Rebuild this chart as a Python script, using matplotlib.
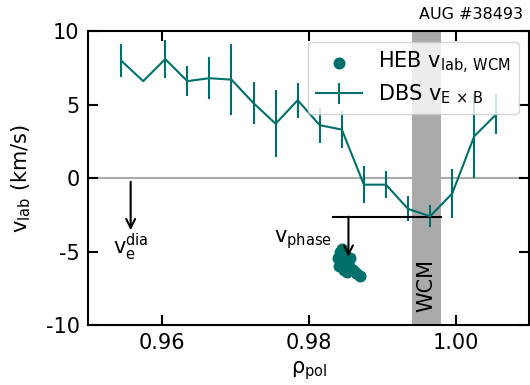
import numpy as np
import matplotlib
matplotlib.use("Agg")
import matplotlib.pyplot as plt

plt.rcParams['axes.unicode_minus'] = False
plt.rcParams['mathtext.default'] = 'regular'

TEAL = '#00706a'

# DBS E x B velocity profile
rho_dbs = [0.9545, 0.9575, 0.9605, 0.9635, 0.9665, 0.9695, 0.9725, 0.9755, 0.9785,
           0.9815, 0.9845, 0.9875, 0.9905, 0.9935, 0.9965, 0.9995, 1.0025, 1.0055]
v_dbs = [8.0, 6.6, 8.1, 6.6, 6.8, 6.7, 5.1, 3.7, 5.3,
         3.6, 3.3, -0.45, -0.45, -2.1, -2.6, -1.05, 2.85, 4.35]
v_dbs_err = [1.15, 0.0, 1.3, 1.0, 1.45, 2.4, 1.45, 2.3, 1.2,
             1.2, 1.25, 1.25, 0.9, 0.85, 0.75, 1.65, 2.85, 1.35]

# HEB lab-frame velocity of the WCM
rho_heb = [0.9843, 0.9848, 0.9840, 0.9845, 0.9841, 0.9851, 0.9855, 0.9848,
           0.9852, 0.9860, 0.9864, 0.9870, 0.9856, 0.9845]
v_heb = [-5.03, -5.24, -5.44, -5.71, -5.99, -5.71, -5.99, -6.26,
         -6.39, -6.26, -6.46, -6.67, -5.44, -4.83]

# WCM radial band and phase velocity
wcm_band = (0.994, 0.998)
v_phase = -2.63
phase_range = (0.9832, 0.9981)
rho_phase_arrow = 0.9854
rho_dia_arrow = 0.9558

fig = plt.figure(figsize=(5.30, 3.85), dpi=100)
ax = fig.add_axes([0.166, 0.156, 0.833, 0.763])

ax.axhline(0, color='#aaaaaa', lw=1.5, zorder=1)
ax.axvspan(*wcm_band, color='#aaaaaa', lw=0, zorder=1)
ax.text(np.mean(wcm_band), -7.3, 'WCM', rotation=90, ha='center', va='center',
        fontsize=15, zorder=2)

ax.scatter(rho_heb, v_heb, s=58, color=TEAL, zorder=4,
           label=r'HEB $\mathrm{v_{lab,\,WCM}}$')
ax.errorbar(rho_dbs, v_dbs, yerr=v_dbs_err, color=TEAL, lw=1.5, elinewidth=1.5,
            capsize=0, zorder=3, label=r'DBS $\mathrm{v_{E\,\times\,B}}$')

ax.hlines(v_phase, *phase_range, color='black', lw=1.5, zorder=3)
ax.annotate('', xy=(rho_phase_arrow, -5.35), xytext=(rho_phase_arrow, v_phase),
            arrowprops=dict(arrowstyle='->', color='black', lw=1.5,
                            shrinkA=0, shrinkB=0, mutation_scale=16), zorder=5)
ax.text(0.9832, -4.2, r'$\mathrm{v_{phase}}$', ha='right', va='center', fontsize=15)

ax.annotate('', xy=(rho_dia_arrow, -3.55), xytext=(rho_dia_arrow, -0.25),
            arrowprops=dict(arrowstyle='->', color='black', lw=1.5,
                            shrinkA=0, shrinkB=0, mutation_scale=16))
ax.text(rho_dia_arrow, -4.7, r'$\mathrm{v_{e}^{dia}}$', ha='center', va='center',
        fontsize=15)

ax.set_xlim(0.95, 1.01)
ax.set_ylim(-10, 10)
ax.set_xticks([0.96, 0.98, 1.00])
ax.set_xticklabels(['0.96', '0.98', '1.00'])
ax.set_yticks([-10, -5, 0, 5, 10])
ax.tick_params(direction='in', top=True, right=True, length=7, width=1.5,
               labelsize=15, pad=6)
for sp in ax.spines.values():
    sp.set_linewidth(1.5)

ax.set_xlabel(r'$\mathrm{\rho_{pol}}$', fontsize=15)
ax.set_ylabel(r'$\mathrm{v_{lab}}$ (km/s)', fontsize=15, labelpad=9)

ax.legend(loc='upper right', fontsize=15, handlelength=2.2,
          borderpad=0.4, labelspacing=0.3, handletextpad=0.8)

fig.text(0.987, 0.962, 'AUG #38493', ha='right', va='center', fontsize=11.5)

fig.savefig('out.png', dpi=100)
